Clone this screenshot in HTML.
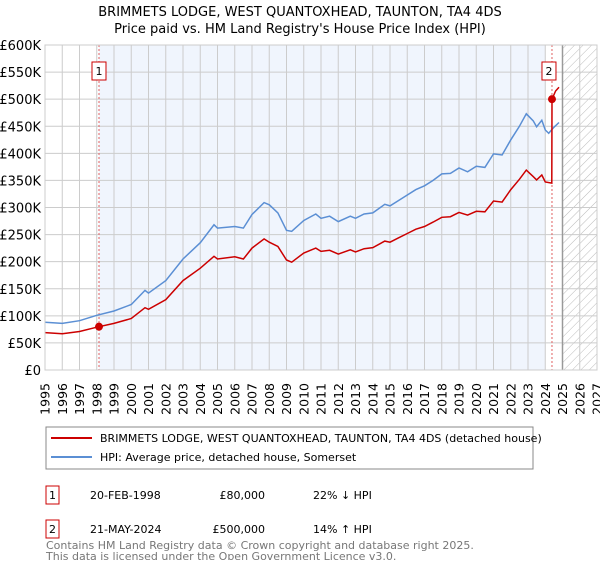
<!DOCTYPE html>
<html><head><meta charset="utf-8"><style>
body{margin:0;background:#fff;font-family:"DejaVu Sans","Liberation Sans",sans-serif;}
svg text{font-family:"DejaVu Sans","Liberation Sans",sans-serif;}
</style></head><body>
<svg id="c" width="600" height="560" xmlns="http://www.w3.org/2000/svg">
<defs><pattern id="hatch" width="6" height="6" patternUnits="userSpaceOnUse" patternTransform="rotate(45)"><line x1="0" y1="0" x2="0" y2="6" stroke="#bbb" stroke-width="1"/></pattern></defs>
<text x="300" y="16" text-anchor="middle" font-size="13">BRIMMETS LODGE, WEST QUANTOXHEAD, TAUNTON, TA4 4DS</text>
<text x="300" y="33" text-anchor="middle" font-size="13">Price paid vs. HM Land Registry's House Price Index (HPI)</text>
<g id="plot"></g>
<rect x="46" y="427" width="487" height="42" fill="#fff" stroke="#888"/>
<line x1="51" y1="438" x2="92" y2="438" stroke="#cc0000" stroke-width="2"/>
<text x="100" y="442" font-size="11">BRIMMETS LODGE, WEST QUANTOXHEAD, TAUNTON, TA4 4DS (detached house)</text>
<line x1="51" y1="457" x2="92" y2="457" stroke="#5b8fd4" stroke-width="2"/>
<text x="100" y="461" font-size="11">HPI: Average price, detached house, Somerset</text>
<g font-size="11">
<rect x="46" y="486" width="13" height="18" fill="none" stroke="#cc0000"/><text x="52.5" y="499" text-anchor="middle">1</text>
<text x="90" y="499">20-FEB-1998</text><text x="265" y="499" text-anchor="end">£80,000</text><text x="313" y="499">22% ↓ HPI</text>
<rect x="46" y="520" width="13" height="18" fill="none" stroke="#cc0000"/><text x="52.5" y="533" text-anchor="middle">2</text>
<text x="90" y="533">21-MAY-2024</text><text x="265" y="533" text-anchor="end">£500,000</text><text x="313" y="533">14% ↑ HPI</text>
</g>
<text x="46" y="549" font-size="11" fill="#777">Contains HM Land Registry data © Crown copyright and database right 2025.</text>
<text x="46" y="560" font-size="11" fill="#777">This data is licensed under the Open Government Licence v3.0.</text>
</svg>
<script>
const hpiYears=[1995,1996,1997,1998,1999,2000,2000.8,2001,2002,2003,2004,2004.8,2005,2006,2006.5,2007,2007.7,2008,2008.5,2009,2009.3,2010,2010.7,2011,2011.5,2012,2012.7,2013,2013.5,2014,2014.7,2015,2015.5,2016,2016.5,2017,2017.5,2018,2018.5,2019,2019.5,2020,2020.5,2021,2021.5,2022,2022.5,2022.9,2023.3,2023.5,2023.8,2024,2024.2,2024.5,2024.8];
const hpiValues=[88,86,91,101,109,121,147,142,165,205,235,268,262,265,262,287,309,305,290,258,256,276,288,280,284,274,284,280,288,290,306,303,313,323,333,340,350,362,363,373,366,376,374,399,397,425,450,473,460,449,461,443,437,448,457];
const propYears=[1995,1996,1997,1998,1999,2000,2000.8,2001,2002,2003,2004,2004.8,2005,2006,2006.5,2007,2007.7,2008,2008.5,2009,2009.3,2010,2010.7,2011,2011.5,2012,2012.7,2013,2013.5,2014,2014.7,2015,2015.5,2016,2016.5,2017,2017.5,2018,2018.5,2019,2019.5,2020,2020.5,2021,2021.5,2022,2022.5,2022.9,2023.3,2023.5,2023.8,2024,2024.38,2024.39,2024.6,2024.8];
const propValues=[69,67,71,79,86,95,115,112,130,165,188,210,205,209,205,225,242,236,228,203,199,216,225,219,221,214,222,218,224,226,238,236,244,252,260,265,273,282,283,291,286,293,292,312,310,333,352,369,357,351,360,347,345,500,515,522];
const saleYears=[1998.13,2024.39];
const saleValues=[80,500];
const saleLabels=["1","2"];
const yTicks=[0,50,100,150,200,250,300,350,400,450,500,550,600];
const yTickLabels=["£0","£50K","£100K","£150K","£200K","£250K","£300K","£350K","£400K","£450K","£500K","£550K","£600K"];
const xTicks=[1995,1996,1997,1998,1999,2000,2001,2002,2003,2004,2005,2006,2007,2008,2009,2010,2011,2012,2013,2014,2015,2016,2017,2018,2019,2020,2021,2022,2023,2024,2025,2026,2027];

const L=45,R=597,T=45,B=370,X0=1995,X1=2027;
const x=v=>L+(v-X0)/(X1-X0)*(R-L);
const y=v=>B-v/600*(B-T);
const NS="http://www.w3.org/2000/svg";
const g=document.getElementById('plot');
function mk(tag,attrs){const e=document.createElementNS(NS,tag);for(const k in attrs)e.setAttribute(k,attrs[k]);g.appendChild(e);return e;}
let e;
e=mk('rect',{x:x(1998.13),y:T,width:x(2024.0)-x(1998.13),height:B-T,fill:'#f0f5fd'});


e=mk('rect',{x:x(2025),y:T,width:R-x(2025),height:B-T,fill:'url(#hatch)'});


yTicks.forEach((t,i)=>{
 e=mk('line',{x1:L,x2:R,y1:y(t),y2:y(t),stroke:'#ccc','stroke-width':1});
 
 
 e=mk('text',{x:L-4,y:y(t)+5,'text-anchor':'end','font-size':13});
 e.textContent=yTickLabels[i];
 
 
});
xTicks.forEach(t=>{
 e=mk('line',{x1:x(t),x2:x(t),y1:T,y2:B,stroke:'#ccc','stroke-width':1});
 
 
 const tx=x(t)+4.5, ty=B+13;
 e=mk('text',{x:tx,y:ty,'text-anchor':'end','font-size':12.5,transform:'rotate(-90 '+tx+' '+ty+')'});
 e.textContent=t;
 
 
});
e=mk('line',{x1:x(2025),x2:x(2025),y1:T,y2:B,stroke:'#999','stroke-width':1.5});


saleYears.forEach(s=>{
 e=mk('line',{x1:x(s),x2:x(s),y1:T,y2:B,stroke:'#e06060','stroke-width':1,'stroke-dasharray':'2,2'});
 
 
});
const pts=(xs,vs)=>xs.map((v,i)=>x(v).toFixed(1)+','+y(vs[i]).toFixed(1)).join(' ');
e=mk('polyline',{points:pts(hpiYears,hpiValues),fill:'none',stroke:'#5b8fd4','stroke-width':1.5});


e=mk('polyline',{points:pts(propYears,propValues),fill:'none',stroke:'#cc0000','stroke-width':1.5});


saleYears.forEach((s,i)=>{
 e=mk('circle',{cx:x(s),cy:y(saleValues[i]),r:4,fill:'#cc0000'});
 
 
 e=mk('rect',{x:x(s)-7-(i==0?0:3),y:62,width:14,height:18,fill:'#fff',stroke:'#cc0000'});
 
 
 e=mk('text',{x:x(s)-(i==0?0:3),y:75,'text-anchor':'middle','font-size':11});
 e.textContent=saleLabels[i];
 
 
});
e=mk('rect',{x:L,y:T,width:R-L,height:B-T,fill:'none',stroke:'#ccc'});


</script>
</body></html>
